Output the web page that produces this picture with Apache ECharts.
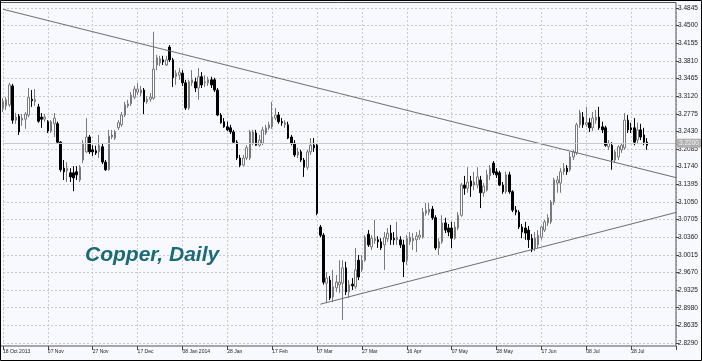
<!DOCTYPE html>
<html><head><meta charset="utf-8">
<script src="https://cdn.jsdelivr.net/npm/echarts@6/dist/echarts.min.js"></script>
<style>html,body{margin:0;padding:0;background:#fff}#c{width:702px;height:361px}</style>
</head><body><div id="c"></div>
<script>
const tickLabels = ['18 Oct 2013','07 Nov','27 Nov','17 Dec','08 Jan 2014','28 Jan','17 Feb','07 Mar','27 Mar','16 Apr','07 May','28 May','17 Jun','08 Jul','28 Jul'];
const openP = [3.289,3.293,3.295,3.332,3.265,3.273,3.265,3.267,3.275,3.306,3.301,3.291,3.271,3.267,3.262,3.244,3.258,3.258,3.222,3.171,
3.166,3.162,3.162,3.164,3.148,3.187,3.203,3.232,3.207,3.205,3.203,3.213,3.183,3.168,3.232,3.230,3.250,3.256,3.275,3.293,
3.297,3.310,3.320,3.318,3.324,3.301,3.306,3.308,3.373,3.377,3.383,3.373,3.408,3.383,3.350,3.353,3.357,3.338,3.289,3.338,
3.340,3.328,3.350,3.338,3.338,3.344,3.344,3.324,3.275,3.262,3.252,3.250,3.242,3.222,3.191,3.177,3.191,3.191,3.220,3.240,
3.216,3.220,3.240,3.250,3.252,3.269,3.275,3.262,3.256,3.256,3.232,3.220,3.197,3.203,3.187,3.173,3.203,3.216,3.216,3.056,
3.040,2.946,2.952,2.919,2.937,2.943,2.946,2.976,2.929,2.944,2.939,2.991,2.972,2.991,3.042,3.017,3.029,3.031,3.027,3.021,
3.033,3.044,3.034,3.031,3.031,3.021,2.991,3.027,3.029,3.031,3.036,3.036,3.083,3.085,3.091,3.074,3.015,3.027,3.064,3.054,
3.054,3.034,3.054,3.079,3.138,3.132,3.146,3.138,3.138,3.148,3.123,3.128,3.156,3.181,3.164,3.162,3.138,3.125,3.158,3.125,
3.089,3.085,3.056,3.054,3.050,3.034,3.015,3.021,3.036,3.050,3.064,3.066,3.105,3.142,3.142,3.164,3.171,3.168,3.193,3.201,
3.256,3.271,3.256,3.260,3.250,3.265,3.271,3.252,3.250,3.213,3.216,3.187,3.193,3.207,3.211,3.265,3.250,3.250,3.226,3.246,
3.236,3.222];
const closeP = [3.301,3.305,3.334,3.265,3.271,3.242,3.269,3.277,3.310,3.303,3.305,3.263,3.267,3.271,3.244,3.262,3.269,3.222,3.168,3.164,
3.171,3.154,3.152,3.158,3.173,3.220,3.232,3.203,3.203,3.201,3.216,3.183,3.168,3.234,3.236,3.242,3.260,3.275,3.295,3.297,
3.314,3.326,3.326,3.324,3.301,3.306,3.310,3.365,3.387,3.385,3.379,3.383,3.383,3.348,3.357,3.359,3.338,3.289,3.340,3.344,
3.328,3.350,3.334,3.340,3.344,3.334,3.324,3.275,3.260,3.252,3.246,3.242,3.222,3.191,3.177,3.191,3.211,3.242,3.242,3.216,
3.226,3.246,3.250,3.256,3.271,3.275,3.262,3.260,3.260,3.230,3.220,3.197,3.203,3.187,3.173,3.203,3.216,3.211,3.083,3.040,
2.948,2.956,2.917,2.939,2.948,2.948,2.976,2.929,2.943,2.941,2.972,2.958,2.991,3.036,3.021,3.034,3.033,3.027,3.015,3.036,
3.044,3.031,3.031,3.036,3.021,2.988,3.034,3.036,3.034,3.038,3.040,3.085,3.089,3.091,3.074,3.015,3.027,3.064,3.050,3.046,
3.034,3.056,3.079,3.138,3.132,3.144,3.136,3.144,3.154,3.123,3.136,3.158,3.171,3.162,3.158,3.138,3.125,3.158,3.125,3.089,
3.085,3.056,3.046,3.044,3.031,3.011,3.034,3.040,3.056,3.066,3.074,3.105,3.148,3.148,3.164,3.171,3.164,3.193,3.203,3.256,
3.279,3.256,3.260,3.250,3.269,3.271,3.250,3.246,3.216,3.220,3.187,3.203,3.213,3.216,3.265,3.246,3.246,3.222,3.246,3.232,
3.222,3.216];
const lowP = [3.281,3.285,3.291,3.258,3.258,3.236,3.254,3.248,3.271,3.291,3.293,3.260,3.250,3.262,3.240,3.240,3.232,3.220,3.164,3.148,
3.144,3.144,3.126,3.148,3.144,3.181,3.201,3.199,3.195,3.197,3.191,3.179,3.166,3.166,3.228,3.226,3.246,3.252,3.271,3.289,
3.293,3.306,3.314,3.312,3.277,3.297,3.301,3.305,3.363,3.371,3.373,3.371,3.379,3.330,3.334,3.344,3.332,3.285,3.285,3.332,
3.320,3.305,3.328,3.330,3.332,3.328,3.320,3.273,3.258,3.250,3.244,3.238,3.220,3.187,3.173,3.175,3.187,3.187,3.216,3.215,
3.213,3.216,3.236,3.246,3.248,3.265,3.258,3.254,3.250,3.228,3.216,3.193,3.191,3.183,3.154,3.168,3.197,3.203,3.079,3.036,
2.943,2.907,2.913,2.909,2.929,2.927,2.874,2.923,2.917,2.933,2.935,2.952,2.968,2.988,3.017,3.011,3.023,3.015,3.011,2.972,
3.027,3.021,3.021,3.021,3.015,2.958,2.982,3.021,3.011,3.007,3.031,3.033,3.078,3.079,3.070,3.011,3.001,3.023,3.044,3.038,
3.015,3.031,3.050,3.076,3.119,3.123,3.115,3.128,3.132,3.093,3.115,3.125,3.148,3.158,3.152,3.136,3.121,3.121,3.121,3.085,
3.079,3.052,3.034,3.031,3.015,3.007,3.009,3.015,3.031,3.046,3.058,3.062,3.099,3.123,3.123,3.158,3.158,3.164,3.187,3.197,
3.250,3.250,3.252,3.242,3.244,3.258,3.246,3.240,3.213,3.207,3.168,3.181,3.187,3.201,3.207,3.240,3.240,3.216,3.220,3.226,
3.216,3.207];
const highP = [3.308,3.310,3.338,3.336,3.279,3.277,3.277,3.281,3.328,3.324,3.326,3.297,3.279,3.277,3.265,3.265,3.279,3.262,3.224,3.187,
3.183,3.171,3.175,3.175,3.177,3.226,3.269,3.236,3.216,3.215,3.236,3.220,3.187,3.246,3.246,3.246,3.265,3.281,3.301,3.305,
3.320,3.332,3.338,3.332,3.328,3.312,3.318,3.438,3.393,3.391,3.391,3.391,3.412,3.387,3.363,3.367,3.363,3.344,3.344,3.363,
3.348,3.367,3.359,3.353,3.350,3.350,3.348,3.328,3.279,3.269,3.262,3.256,3.246,3.226,3.197,3.197,3.216,3.246,3.246,3.246,
3.236,3.252,3.256,3.262,3.301,3.289,3.281,3.269,3.265,3.262,3.236,3.226,3.211,3.207,3.191,3.207,3.230,3.230,3.220,3.060,
3.044,2.968,2.960,2.972,2.962,2.991,2.991,2.988,2.952,2.956,3.015,3.001,3.001,3.040,3.050,3.040,3.070,3.038,3.034,3.046,
3.054,3.060,3.046,3.066,3.038,3.031,3.040,3.046,3.044,3.046,3.050,3.093,3.103,3.103,3.097,3.079,3.034,3.079,3.074,3.062,
3.066,3.066,3.085,3.142,3.156,3.173,3.156,3.164,3.173,3.156,3.142,3.168,3.177,3.185,3.171,3.166,3.144,3.164,3.164,3.128,
3.097,3.089,3.062,3.066,3.058,3.042,3.046,3.050,3.058,3.070,3.081,3.109,3.152,3.156,3.171,3.181,3.177,3.203,3.207,3.260,
3.285,3.281,3.291,3.269,3.281,3.285,3.291,3.262,3.254,3.226,3.222,3.207,3.216,3.220,3.279,3.275,3.260,3.269,3.260,3.258,
3.250,3.230];
const barSlots = 211;
const yMin = 2.8290, yMax = 3.4845, yStep = 0.0345;
const lastPrice = 3.2174;
const trendDown = [[0, 3.482], [210, 3.1526]];
const trendUp = [[99, 2.9049], [210, 3.0845]];

const categories = Array.from({length: barSlots}, (_, i) => String(i));
const candles = openP.map((o, i) => [o, closeP[i], lowP[i], highP[i]]);
const grid = {left: 0, right: 26, top: 8, bottom: 18};
const chart = echarts.init(document.getElementById('c'));
chart.setOption({
  backgroundColor: '#F8F8FF',
  animation: false,
  grid: grid,
  xAxis: {
    type: 'category', data: categories, boundaryGap: false, offset: 3,
    axisLine: {show: false},
    axisTick: {show: true, interval: 13, length: 4, lineStyle: {color: '#444'}},
    axisLabel: {interval: 13, align: 'left', margin: 3, fontSize: 5, color: '#222', fontFamily: 'Liberation Sans',
      formatter: (v, idx) => { const k = idx / 14; return Number.isInteger(k) && tickLabels[k] ? tickLabels[k] : ''; }},
    splitLine: {show: true, interval: 13, lineStyle: {color: '#C9CAD2', type: [2, 2], width: 1}}
  },
  yAxis: {
    type: 'value', position: 'right', min: yMin, max: yMax, interval: yStep, scale: true,
    axisLine: {show: false},
    axisTick: {show: true, length: 3, lineStyle: {color: '#444'}},
    axisLabel: {margin: 2, fontSize: 6.5, color: '#222', fontFamily: 'Liberation Sans', formatter: v => v.toFixed(4)},
    splitLine: {show: true, lineStyle: {color: '#C9CAD2', type: [2, 2], width: 1}}
  },
  series: [
    {
      type: 'candlestick', data: candles, barWidth: 2, clip: false,
      itemStyle: {color: '#FFFFFF', color0: '#000000', borderColor: '#7A7A7A', borderColor0: '#000000', borderWidth: 1},
      markLine: {
        silent: true, symbol: ['none', 'none'],
        lineStyle: {color: '#C8C8C8', type: 'solid', width: 1},
        label: {show: true, position: 'end', distance: 1, formatter: p => p.value.toFixed(4), fontSize: 6.5,
          color: '#F2F2F2', backgroundColor: '#B0B0B0', padding: [1, 2, 1, 2], fontFamily: 'Liberation Sans'},
        data: [{yAxis: lastPrice}]
      }
    },
    {type: 'line', data: trendDown, symbol: 'none', lineStyle: {color: '#6E6E6E', width: 1}, silent: true, z: 3},
    {type: 'line', data: trendUp, symbol: 'none', lineStyle: {color: '#6E6E6E', width: 1}, silent: true, z: 3}
  ],
  graphic: [
    {type: 'rect', shape: {x: 0.5, y: 2.5, width: 675.5, height: 343.5}, style: {fill: 'none', stroke: '#555', lineWidth: 1}, z: 100, silent: true},
    {type: 'rect', shape: {x: 0.5, y: 0.5, width: 701, height: 360}, style: {fill: 'none', stroke: '#000', lineWidth: 1}, z: 101, silent: true},
    {type: 'text', left: 85, top: 245, style: {text: 'Copper, Daily', font: 'italic bold 21px "Liberation Sans"', fill: '#1B6B74'}, z: 50}
  ]
});
</script></body></html>
